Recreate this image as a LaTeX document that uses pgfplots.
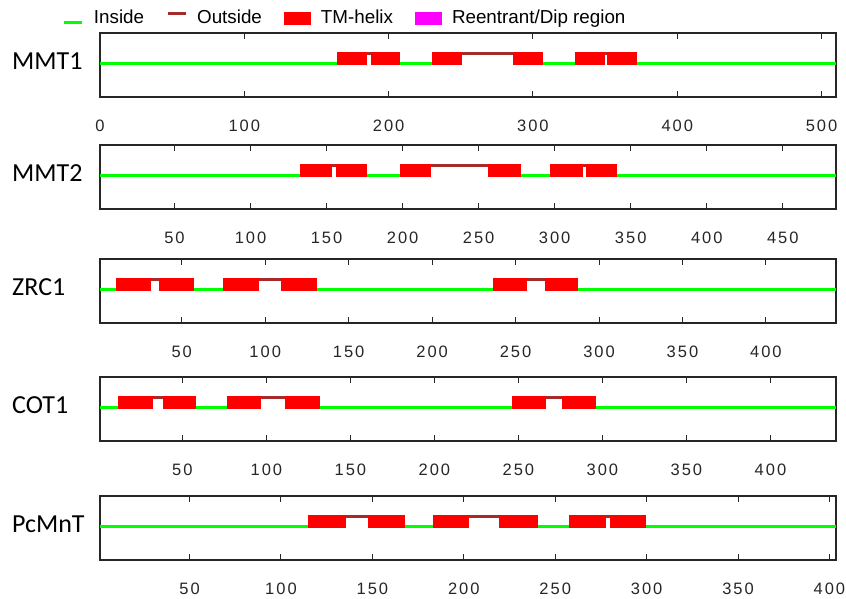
\documentclass[border=0pt]{standalone}
\usepackage{fontspec}
\usepackage{pgfplots}
\pgfplotsset{compat=1.18}
\setmainfont{Liberation Sans}
\newfontfamily\labfont{Carlito}
\newfontfamily\tickfont[LetterSpace=12]{Liberation Sans}
\definecolor{insidec}{RGB}{0,255,0}
\definecolor{outsidec}{RGB}{165,42,42}
\definecolor{tmc}{RGB}{255,0,0}
\definecolor{reenc}{RGB}{255,0,255}
\pgfplotsset{
  tmpanel/.style={
    scale only axis, width=736bp, height=64bp,
    ymin=0, ymax=64, ytick=\empty,
    axis line style={black!85, line width=1.2bp},
    tick style={black!85, line width=1bp},
    major tick length=6bp,
    tick align=inside,
    xtick pos=both,
    /pgf/number format/assume math mode=true,
    ticklabel style={font=\tickfont\fontsize{16.5bp}{19bp}\selectfont, text=black!85},
    xticklabel style={yshift=-19bp},
    every axis y label/.style={at={(rel axis cs:0,0.5)}, anchor=west, xshift=-88bp, yshift=3.5bp, inner sep=0pt, font=\labfont\fontsize{26bp}{30bp}\selectfont},
    unbounded coords=jump,
  },
  insl/.style={insidec, line width=2.7bp, forget plot},
  outl/.style={outsidec, line width=3.3bp, forget plot},
  tmb/.style={fill=tmc, draw=none, forget plot},
}
\newcommand\tmbar[2]{\addplot[tmb] coordinates {(#1,32)(#2,32)(#2,45.3)(#1,45.3)} --cycle;}
\begin{document}
\begin{tikzpicture}
\useasboundingbox (0,0) rectangle (846bp,-599bp);
% ---------------- MMT1
\begin{axis}[tmpanel, at={(100bp,-97bp)}, anchor=south west,
  xmin=0, xmax=510, xtick={0,100,200,300,400,500}, ylabel={MMT1},
  legend columns=4,
  legend style={at={(rel axis cs:-0.0503,1.25)}, anchor=west, draw=none, fill=none,
    inner sep=0pt, outer sep=0pt, font=\fontsize{18.8bp}{22bp}\selectfont,
    nodes={inner sep=0pt, text height=12.3bp, text depth=0bp},
    /tikz/every odd column/.style={column sep=10bp},
    /tikz/every even column/.style={column sep=22bp}}]
\addlegendimage{legend image code/.code={\path[draw=none,fill=none] (0bp,-8bp) rectangle (18bp,8bp); \draw[insidec, line width=3bp] (0bp,-5bp) -- (18bp,-5bp);}}
\addlegendentry{Inside}
\addlegendimage{legend image code/.code={\path[draw=none,fill=none] (0bp,-8bp) rectangle (18bp,8bp); \draw[outsidec, line width=3bp] (0bp,3.3bp) -- (18bp,3.3bp);}}
\addlegendentry{Outside}
\addlegendimage{legend image code/.code={\path[draw=none,fill=none] (0bp,-8bp) rectangle (27bp,8bp); \fill[tmc, draw=none] (0bp,-8bp) rectangle (27bp,5.5bp);}}
\addlegendentry{TM-helix}
\addlegendimage{legend image code/.code={\path[draw=none,fill=none] (0bp,-8bp) rectangle (27bp,8bp); \fill[reenc, draw=none] (0bp,-8bp) rectangle (27bp,5.5bp);}}
\addlegendentry{Reentrant/Dip region}
\addplot[insl] coordinates {(0,33.3)(164,33.3)(164,nan)(208,33.3)(230,33.3)(230,nan)(307,33.3)(329,33.3)(329,nan)(372,33.3)(510,33.3)};
\addplot[outl] coordinates {(184,43.3)(189,43.3)(189,nan)(250,43.3)(287,43.3)(287,nan)(349,43.3)(352,43.3)};
\tmbar{164}{185}
\tmbar{188}{208}
\tmbar{230}{251}
\tmbar{286}{307}
\tmbar{329}{350}
\tmbar{351}{372}
\end{axis}
% ---------------- MMT2
\begin{axis}[tmpanel, at={(100bp,-209bp)}, anchor=south west,
  xmin=1, xmax=485, xtick={50,100,...,450}, ylabel={MMT2}]
\addplot[insl] coordinates {(1,33.3)(132.2,33.3)(132.2,nan)(176.9,33.3)(198.6,33.3)(198.6,nan)(277.6,33.3)(297.1,33.3)(297.1,nan)(340.9,33.3)(485,33.3)};
\addplot[outl] coordinates {(152.4,43.3)(157.5,43.3)(157.5,nan)(217.9,43.3)(257.1,43.3)(257.1,nan)(317.6,43.3)(321.8,43.3)};
\tmbar{132.2}{153.4}
\tmbar{156.5}{176.9}
\tmbar{198.6}{218.9}
\tmbar{256.1}{277.6}
\tmbar{297.1}{318.6}
\tmbar{320.8}{340.9}
\end{axis}
% ---------------- ZRC1
\begin{axis}[tmpanel, at={(100bp,-323bp)}, anchor=south west,
  xmin=1, xmax=442, xtick={50,100,...,400}, ylabel={ZRC1}]
\addplot[insl] coordinates {(1,33.3)(10.6,33.3)(10.6,nan)(57.6,33.3)(74.6,33.3)(74.6,nan)(131,33.3)(236.3,33.3)(236.3,nan)(287.7,33.3)(442,33.3)};
\addplot[outl] coordinates {(30.8,43.3)(37.2,43.3)(37.2,nan)(95,43.3)(110.4,43.3)(110.4,nan)(255.7,43.3)(268.5,43.3)};
\tmbar{10.6}{31.8}
\tmbar{36.2}{57.6}
\tmbar{74.6}{96}
\tmbar{109.4}{131}
\tmbar{236.3}{256.7}
\tmbar{267.5}{287.7}
\end{axis}
% ---------------- COT1
\begin{axis}[tmpanel, at={(100bp,-441bp)}, anchor=south west,
  xmin=1, xmax=439, xtick={50,100,...,400}, ylabel={COT1}]
\addplot[insl] coordinates {(1,33.3)(11.8,33.3)(11.8,nan)(58.3,33.3)(76.4,33.3)(76.4,nan)(131.9,33.3)(246,33.3)(246,nan)(296.4,33.3)(439,33.3)};
\addplot[outl] coordinates {(31.8,43.3)(39.3,43.3)(39.3,nan)(95.6,43.3)(111.9,43.3)(111.9,nan)(265.2,43.3)(277.2,43.3)};
\tmbar{11.8}{32.8}
\tmbar{38.3}{58.3}
\tmbar{76.4}{96.6}
\tmbar{110.9}{131.9}
\tmbar{246}{266.2}
\tmbar{276.2}{296.4}
\end{axis}
% ---------------- PcMnT
\begin{axis}[tmpanel, at={(100bp,-560bp)}, anchor=south west,
  xmin=1, xmax=403.6, xtick={50,100,...,400}, ylabel={PcMnT}]
\addplot[insl] coordinates {(1,33.3)(114.7,33.3)(114.7,nan)(168.1,33.3)(183,33.3)(183,nan)(240.5,33.3)(257.4,33.3)(257.4,nan)(299.7,33.3)(403.6,33.3)};
\addplot[outl] coordinates {(134.7,43.3)(148.7,43.3)(148.7,nan)(202.1,43.3)(220.5,43.3)(220.5,nan)(276.9,43.3)(280.7,43.3)};
\tmbar{114.7}{135.7}
\tmbar{147.7}{168.1}
\tmbar{183}{203.1}
\tmbar{219.5}{240.5}
\tmbar{257.4}{277.9}
\tmbar{279.7}{299.7}
\end{axis}
\end{tikzpicture}
\end{document}
